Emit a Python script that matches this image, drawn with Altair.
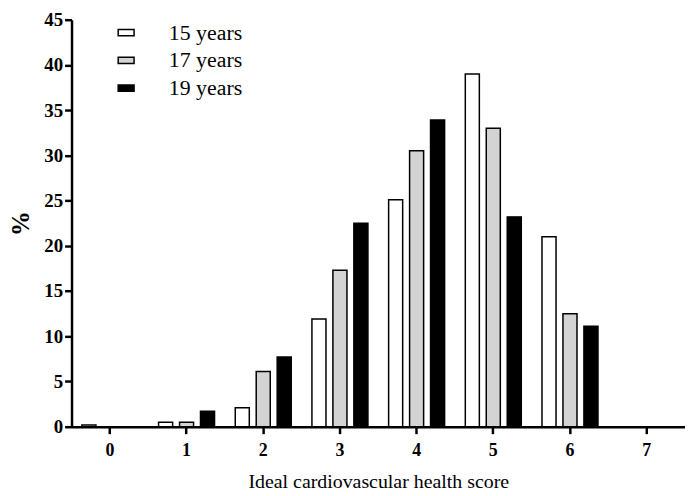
import altair as alt
import pandas as pd

scores = [0, 1, 2, 3, 4, 5, 6, 7]
groups = ["15 years", "17 years", "19 years"]
pct_15 = [0.2, 0.5, 2.1, 11.9, 25.1, 39.0, 21.0, 0.0]
pct_17 = [0.0, 0.5, 6.1, 17.3, 30.5, 33.0, 12.5, 0.0]
pct_19 = [0.0, 1.7, 7.7, 22.5, 33.9, 23.2, 11.1, 0.0]
fills = ["#ffffff", "#d3d3d3", "#000000"]

rows = []
for g, vals in zip(groups, [pct_15, pct_17, pct_19]):
    for s, v in zip(scores, vals):
        rows.append({"score": s, "group": g, "pct": v})
df = pd.DataFrame(rows)

FONT = "Liberation Serif"

chart = alt.Chart(df).mark_bar(stroke="black", strokeWidth=1.5).encode(
    x=alt.X("score:O", title="Ideal cardiovascular health score",
            scale=alt.Scale(paddingInner=0.27, paddingOuter=0.135),
            axis=alt.Axis(labelAngle=0, labelFontWeight="bold", labelFontSize=18,
                          titleFontWeight="normal", titleFontSize=20, titlePadding=12,
                          labelPadding=8)),
    xOffset=alt.XOffset("group:N", scale=alt.Scale(paddingInner=0.33)),
    y=alt.Y("pct:Q", title="%", scale=alt.Scale(domain=[0, 45], nice=False),
            axis=alt.Axis(values=list(range(0, 50, 5)), labelFontWeight="bold",
                          labelFontSize=19, titleFontWeight="bold", titleFontSize=25,
                          titlePadding=10, grid=False)),
    fill=alt.Fill("group:N", scale=alt.Scale(domain=groups, range=fills),
                  legend=alt.Legend(title=None, orient="none", legendX=44, legendY=2,
                                    symbolType="M-1,-0.4L1,-0.4L1,0.4L-1,0.4Z",
                                    symbolSize=256, symbolStrokeColor="black",
                                    symbolStrokeWidth=1.5, labelFont=FONT,
                                    labelFontSize=22, labelOffset=32, rowPadding=6,
                                    padding=0)),
).properties(
    width=618, height=410,
    autosize=alt.AutoSizeParams(type="none"),
    padding={"left": 64, "top": 10, "right": 0, "bottom": 66},
).configure_axis(
    labelFont=FONT, titleFont=FONT, domainColor="black", domainWidth=2.5,
    tickColor="black", tickWidth=2.5, tickSize=7, labelColor="black", titleColor="black",
).configure_view(stroke=None)

chart.save("out.html", embed_options={"renderer": "svg", "actions": False})
